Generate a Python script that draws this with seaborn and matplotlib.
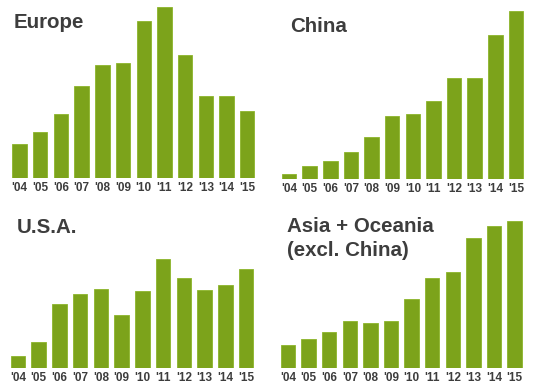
import matplotlib
matplotlib.use("Agg")
import matplotlib.pyplot as plt
import seaborn as sns
import pandas as pd

years = ["'04", "'05", "'06", "'07", "'08", "'09", "'10", "'11", "'12", "'13", "'14", "'15"]
europe = [34, 46, 64, 92, 113, 115, 157, 171, 123, 82, 82, 67]
china = [5, 13, 18, 27, 42, 63, 65, 78, 101, 101, 144, 168]
usa = [12, 26, 64, 74, 79, 53, 77, 109, 90, 78, 83, 99]
asia = [23, 29, 36, 47, 45, 47, 69, 90, 96, 130, 142, 147]

titles = [["Europe"], ["China"], ["U.S.A."], ["Asia + Oceania", "(excl. China)"]]
series = [europe, china, usa, asia]

sns.set_theme(style="white")
plt.rcParams['font.family'] = ['Liberation Sans', 'DejaVu Sans']

W, H = 533, 390
fig = plt.figure(figsize=(W / 100, H / 100), dpi=100)

# (left px, width px, top px, baseline px)
boxes = [
    (9.2, 248.4, 2, 178),
    (278.7, 247.6, 2, 179),
    (7.4, 249.0, 200, 368),
    (277.7, 247.2, 200, 368),
]
# (x px, baseline y px of each line)
title_pos = [(14, [28.5]), (290, [32]), (17, [233]), (287, [232, 256])]

bar_color = "#7ca31b"
text_color = "#3d3d3d"

for vals, lines, (l, w, t, b), (tx, tys) in zip(series, titles, boxes, title_pos):
    ax = fig.add_axes([l / W, 1 - b / H, w / W, (b - t) / H])
    df = pd.DataFrame({"year": years, "value": vals})
    sns.barplot(data=df, x="year", y="value", ax=ax, color=bar_color,
                saturation=1, width=0.7, edgecolor="#8db52a", linewidth=0.6)
    ax.set_xlim(-0.5, 11.5)
    ax.set_ylim(0, b - t)
    ax.set_xlabel("")
    ax.set_ylabel("")
    ax.set_yticks([])
    ax.tick_params(axis="x", length=0, pad=3, labelsize=8.5, labelcolor=text_color)
    for lab in ax.get_xticklabels():
        lab.set_fontweight("bold")
    sns.despine(ax=ax, left=True, bottom=True)
    ax.patch.set_alpha(0)
    for line, ty in zip(lines, tys):
        fig.text(tx / W, 1 - ty / H, line, fontsize=14.8, fontweight="bold",
                 color=text_color, va="baseline", ha="left")

fig.savefig("out.png", dpi=100)
